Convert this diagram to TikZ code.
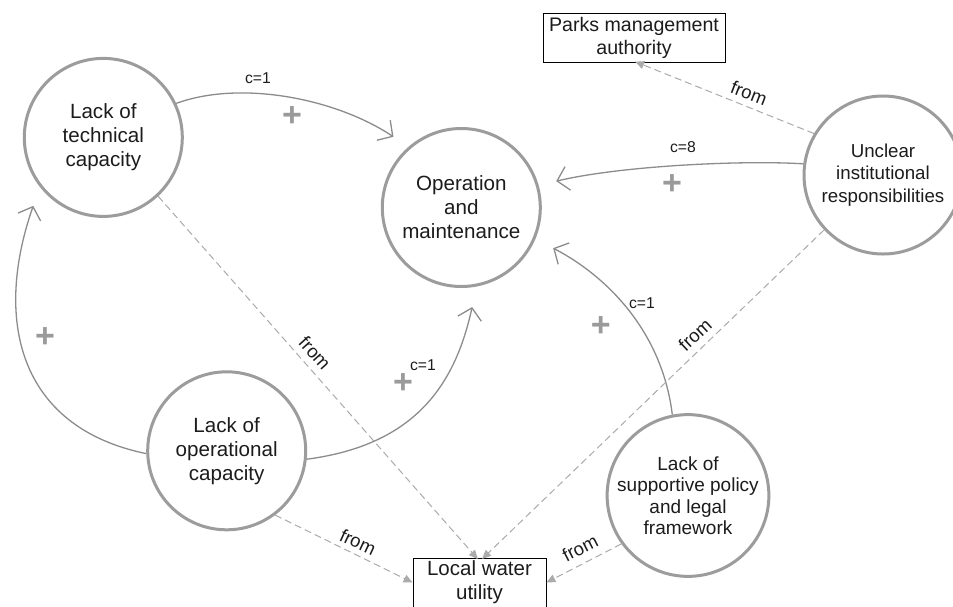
\documentclass[tikz,border=0pt]{standalone}
\usepackage{fontspec}
\setmainfont{Liberation Sans}
\usetikzlibrary{arrows.meta}
\definecolor{ringgray}{HTML}{9C9C9C}
\definecolor{linkgray}{HTML}{8C8C8C}
\definecolor{dashgray}{HTML}{ABABAB}
\definecolor{signgray}{HTML}{9A9A9A}
\definecolor{inkcol}{HTML}{1C1C1C}

\begin{document}
\begin{tikzpicture}[x=1pt,y=-1pt,
  factor/.style={circle, draw=ringgray, line width=3pt, minimum size=158pt,
    inner sep=0pt, align=center, text=inkcol,
    font=\fontsize{20.6}{24}\selectfont},
  actor/.style={rectangle, draw=black, line width=0.8pt, inner sep=1pt,
    align=center, text=inkcol, font=\fontsize{19.6}{23}\selectfont},
  link/.style={draw=linkgray, line width=1.3pt,
    -{Straight Barb[length=11pt,width=24pt,line width=1.3pt]}},
  origin/.style={draw=dashgray, line width=1pt, dash pattern=on 7pt off 4pt,
    -{Triangle[length=9pt,width=8pt]}},
  clabel/.style={text=inkcol, inner sep=0pt, font=\fontsize{15.7}{18}\selectfont},
  flabel/.style={text=inkcol, inner sep=0pt, font=\fontsize{18.5}{21}\selectfont},
  sign/.style={text=signgray, inner sep=0pt, font=\fontsize{34}{34}\selectfont\bfseries}
]
\clip (0,0) rectangle (953,606);
\fill[white] (0,0) rectangle (953,606);

% factors
\node[factor] (T)  at (103.3,137.4) {Lack of\\technical\\capacity};
\node[factor] (OM) at (461.3,207.5) {Operation\\and\\maintenance};
\node[factor, font=\fontsize{18.7}{22.5}\selectfont] (U) at (883,175)
  {Unclear\\institutional\\responsibilities};
\node[factor] (Op) at (226.7,450.8) {Lack of\\operational\\capacity};
\node[factor, font=\fontsize{19}{21.5}\selectfont] (P) at (688,495.5)
  {Lack of\\supportive policy\\and legal\\framework};

% actors
\node[actor, minimum width=182pt, minimum height=49pt] (Parks) at (634,37.5)
  {Parks management\\authority};
\node[actor, minimum width=133pt, minimum height=49pt,
  font=\fontsize{20.5}{24}\selectfont] (Local) at (479.5,582.5)
  {Local water\\utility};

% causal links
\draw[link, shorten >=18pt] (T.25) .. controls (240,80) and (335,98) .. (OM.131);
\draw[link, shorten >=18pt] (U.172) .. controls (740,160) and (620,166) .. (OM.16);
\draw[link, shorten >=20pt] (Op.182) .. controls (17,427) and (-6,318) .. (T.218);
\draw[link, shorten >=21pt] (Op.-6) .. controls (415,445) and (455,385) .. (OM.-79);
\draw[link, shorten >=20pt] (P.101) .. controls (662,330) and (605,275) .. (OM.-23);

% link labels
\node[clabel] (c1) at (258,78)  {c=1};
\node[clabel] (c2) at (683,147) {c=8};
\node[clabel] (c4) at (423,365) {c=1};
\node[clabel] (c5) at (642,303) {c=1};
\node[sign] (s1) at (292,117) {+};
\node[sign] (s2) at (672,185) {+};
\node[sign] (s3) at (45,338)  {+};
\node[sign] (s4) at (403,384) {+};
\node[sign] (s5) at (600.7,327) {+};

% origin links
\draw[origin, shorten >=-2pt] (U.149) -- ([xshift=3pt]Parks.south);
\draw[origin, shorten >=-2pt] (T.-47) -- ([xshift=-3pt]Local.north);
\draw[origin, shorten >=-2pt] (U.223) -- ([xshift=4pt]Local.north);
\draw[origin] (Op.-53) -- (Local.west);
\draw[origin] (P.216) -- (Local.east);

\node[flabel, rotate=-21] (f1) at (749,93)  {from};
\node[flabel, rotate=-48] (f2) at (315,353) {from};
\node[flabel, rotate=43]  (f3) at (695,335) {from};
\node[flabel, rotate=-25] (f4) at (358,542) {from};
\node[flabel, rotate=27]  (f5) at (580,548) {from};
\end{tikzpicture}
\end{document}
